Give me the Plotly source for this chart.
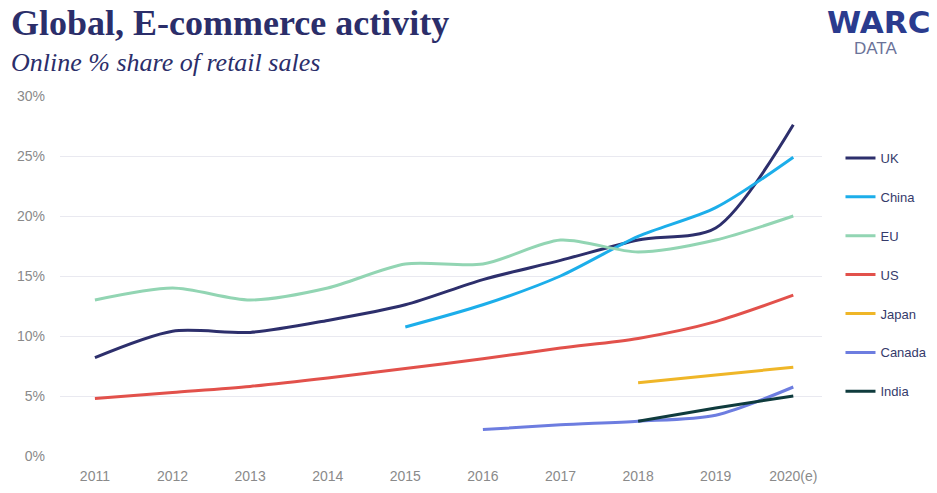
import plotly.graph_objects as go

# Online share of retail sales (%), by market
years = ["2011", "2012", "2013", "2014", "2015", "2016", "2017", "2018", "2019", "2020(e)"]

uk = [8.2, 10.4, 10.3, 11.3, 12.6, 14.7, 16.3, 18.0, 19.0, 27.6]
china = [None, None, None, None, 10.75, 12.6, 15.0, 18.3, 20.7, 24.9]
eu = [13.0, 14.0, 13.0, 14.0, 16.0, 16.0, 18.0, 17.0, 18.0, 20.0]
us = [4.8, 5.3, 5.8, 6.5, 7.3, 8.1, 9.0, 9.8, 11.2, 13.4]
japan = [None, None, None, None, None, None, None, 6.1, 6.75, 7.4]
canada = [None, None, None, None, None, 2.2, 2.6, 2.9, 3.4, 5.75]
india = [None, None, None, None, None, None, None, 2.9, 4.0, 5.0]

series = [
    ("UK", uk, "#2d2f6c"),
    ("China", china, "#1caeea"),
    ("EU", eu, "#92d5b3"),
    ("US", us, "#e2514b"),
    ("Japan", japan, "#efb628"),
    ("Canada", canada, "#6d7de0"),
    ("India", india, "#0f3b3d"),
]

x_pos = list(range(len(years)))

fig = go.Figure()
for name, values, color in series:
    fig.add_trace(go.Scatter(
        x=x_pos, y=values, name=name, mode="lines",
        line=dict(color=color, width=3, shape="spline", smoothing=0.8),
        legendgroup=name,
    ))

fig.update_layout(
    width=937, height=493,
    margin=dict(l=60, r=115, t=96, b=37, autoexpand=False),
    plot_bgcolor="white", paper_bgcolor="white",
    font=dict(family="Liberation Sans, Arial, sans-serif", color="#8a8a8a"),
    showlegend=True,
    legend=dict(
        xref="container", yref="container",
        x=0.897, xanchor="left", y=0.71, yanchor="top",
        font=dict(size=13, color="#363b6b"),
        tracegroupgap=19, itemwidth=30, maxheight=320,
        bgcolor="rgba(0,0,0,0)",
    ),
    xaxis=dict(
        tickmode="array", tickvals=x_pos, ticktext=years,
        range=[-0.45, 9.37], showgrid=False, zeroline=False,
        showline=False, ticks="", tickfont=dict(size=14, color="#8a8a8a"),
        ticklabelstandoff=10, automargin=False,
    ),
    yaxis=dict(
        range=[0, 30], tickvals=[0, 5, 10, 15, 20, 25, 30],
        ticktext=["0%", "5%", "10%", "15%", "20%", "25%", "30%"],
        showgrid=True, gridcolor="#e9e9f0", gridwidth=1,
        zeroline=False, showline=False, ticks="",
        tickfont=dict(size=14, color="#8a8a8a"), ticklabelstandoff=14,
        automargin=False,
    ),
)

# Header text and branding
fig.add_annotation(
    text="<b>Global, E-commerce activity</b>", xref="paper", yref="paper",
    x=0, y=1, xshift=-51, yshift=73, xanchor="left", yanchor="middle",
    showarrow=False, font=dict(family="Liberation Serif, serif", size=36, color="#2b2e6a"),
)
fig.add_annotation(
    text="<i>Online % share of retail sales</i>", xref="paper", yref="paper",
    x=0, y=1, xshift=-51, yshift=34, xanchor="left", yanchor="middle",
    showarrow=False, font=dict(family="Liberation Serif, serif", size=26, color="#2b2e6a"),
)
fig.add_annotation(
    text="<b>WARC</b>", xref="paper", yref="paper",
    x=1, y=1, xshift=110, yshift=74, xanchor="right", yanchor="middle",
    height=30, showarrow=False,
    font=dict(family="DejaVu Sans, sans-serif", size=31, color="#2a3b8e"),
)
fig.add_annotation(
    text="DATA", xref="paper", yref="paper",
    x=1, y=1, xshift=53, yshift=48, xanchor="center", yanchor="middle",
    height=16, showarrow=False,
    font=dict(family="Liberation Sans, Arial, sans-serif", size=17, color="#6b7399"),
)

fig.write_html("out.html")
